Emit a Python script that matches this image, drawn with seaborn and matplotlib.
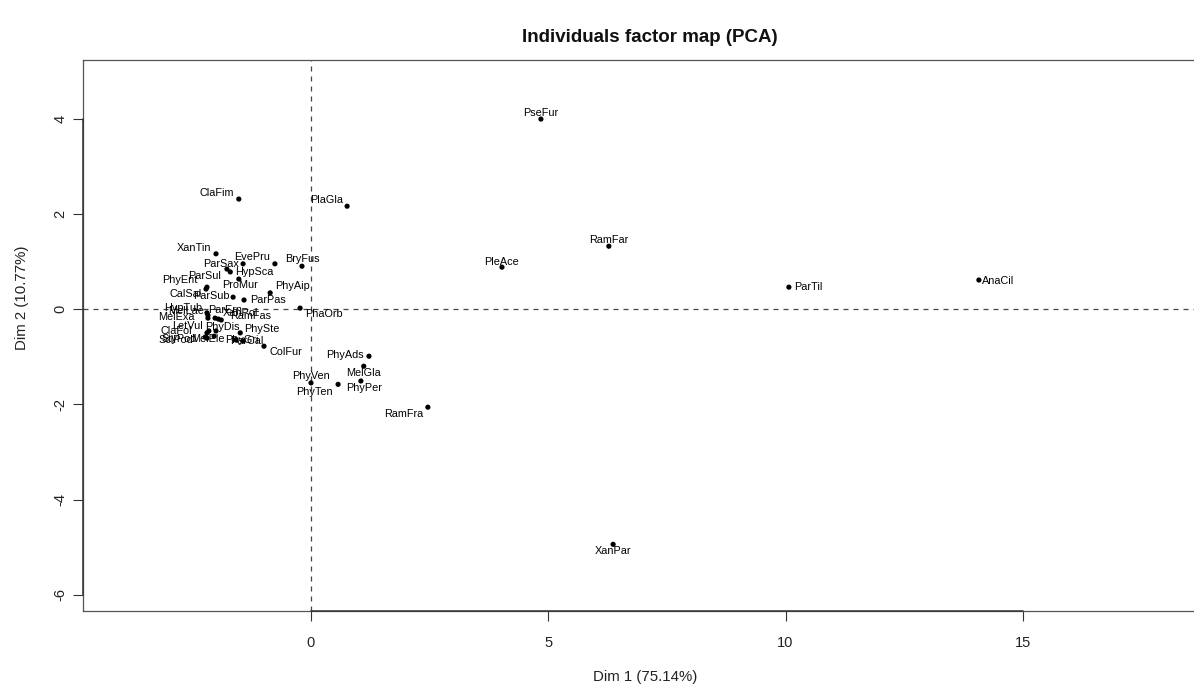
import matplotlib
matplotlib.use("Agg")
import matplotlib.pyplot as plt
import seaborn as sns
import pandas as pd

# Species coordinates on the first two principal components
species = [
    "PseFur", "ClaFim", "PlaGla", "RamFar", "PleAce", "ParTil", "AnaCil", "XanPar",
    "RamFra", "PhyAds", "MelGla", "PhyPer", "PhyTen", "PhyVen", "ColFur", "PhaOrb",
    "BryFus", "PhyAip", "ParPas", "EvePru", "ParSax", "XanTin", "HypSca", "ParSul",
    "PhyEnt", "ProMur", "CalSal", "ParSub", "HypTub", "MelLae", "MelExa", "ParErn",
    "XanPol", "RamFas", "LetVul", "ClaFol", "PhyDis", "PhySte", "StyPod", "SclPod",
    "MelEle", "PhyGri", "ParCal",
]
dim1 = [
    4.85, -1.51, 0.77, 6.28, 4.03, 10.07, 14.07, 6.37,
    2.47, 1.23, 1.12, 1.06, 0.58, 0.01, -0.98, -0.22,
    -0.18, -0.85, -1.40, -0.75, -1.42, -1.99, -1.69, -1.76,
    -2.18, -1.51, -2.20, -1.63, -2.18, -2.16, -2.16, -2.01,
    -1.94, -1.88, -2.14, -2.18, -1.99, -1.48, -2.22, -2.18,
    -2.03, -1.57, -1.42,
]
dim2 = [
    3.99, 2.31, 2.16, 1.32, 0.88, 0.46, 0.61, -4.94,
    -2.06, -0.99, -1.20, -1.51, -1.58, -1.55, -0.78, 0.02,
    0.90, 0.34, 0.19, 0.95, 0.95, 1.16, 0.78, 0.84,
    0.46, 0.63, 0.42, 0.25, -0.08, -0.13, -0.19, -0.19,
    -0.21, -0.23, -0.46, -0.50, -0.46, -0.50, -0.59, -0.61,
    -0.57, -0.65, -0.67,
]
x_ticks = [0, 5, 10, 15]
y_ticks = [-6, -4, -2, 0, 2, 4]
title = "Individuals factor map (PCA)"
x_label = "Dim 1 (75.14%)"
y_label = "Dim 2 (10.77%)"

# Label placement (pixel offsets from each point), chosen to limit overlaps
label_offsets = {
    "PseFur": (0, 6), "ClaFim": (-22, 6), "PlaGla": (-20, 6), "RamFar": (0, 6),
    "PleAce": (0, 5), "ParTil": (19, 0), "AnaCil": (19, -1), "XanPar": (0, -7),
    "RamFra": (-24, -7), "PhyAds": (-24, 1), "MelGla": (0, -7), "PhyPer": (3, -7),
    "PhyTen": (-24, -8), "PhyVen": (0, 7), "ColFur": (22, -6), "PhaOrb": (24, -6),
    "BryFus": (0, 7), "PhyAip": (22, 7), "ParPas": (24, 0), "EvePru": (-23, 7),
    "ParSax": (-22, 0), "XanTin": (-22, 6), "HypSca": (24, 0), "ParSul": (-22, -7),
    "PhyEnt": (-27, 7), "ProMur": (1, -6), "CalSal": (-20, -5), "ParSub": (-22, 1),
    "HypTub": (-24, 5), "MelLae": (-22, 4), "MelExa": (-32, 1), "ParErn": (10, 8),
    "XanPol": (22, 6), "RamFas": (29, 4), "LetVul": (-21, 5), "ClaFol": (-31, 2),
    "PhyDis": (6, 4), "PhySte": (22, 4), "StyPod": (-26, -2), "SclPod": (-31, -2),
    "MelEle": (-6, -3), "PhyGri": (6, 0), "ParCal": (4, 0),
}

df = pd.DataFrame({"name": species, "dim1": dim1, "dim2": dim2})

sns.set_theme(style="white")
plt.rcParams["font.family"] = ["Liberation Sans", "DejaVu Sans"]

W, H = 1194, 688
fig = plt.figure(figsize=(W / 100, H / 100), dpi=100)
left, right, top, bottom = 83, 1205, 60, 611
ax = fig.add_axes([left / W, 1 - bottom / H, (right - left) / W, (bottom - top) / H])

sns.scatterplot(data=df, x="dim1", y="dim2", ax=ax, color="black", s=14,
                edgecolor="none", legend=False, zorder=3)

for name, x, y in zip(df["name"], df["dim1"], df["dim2"]):
    dx, dy = label_offsets[name]
    ax.annotate(name, (x, y), xytext=(dx, dy), textcoords="offset pixels",
                ha="center", va="center", fontsize=7.8, color="black", zorder=4)

ax.axhline(0, color="#444444", lw=0.9, ls=(0, (4, 4)), zorder=1)
ax.axvline(0, color="#444444", lw=0.9, ls=(0, (4, 4)), zorder=1)

ax.set_xlim(-4.79, 18.83)
ax.set_ylim(-6.34, 5.23)
ax.set_xticks(x_ticks)
ax.set_yticks(y_ticks)
ax.set_xticklabels([str(t) for t in x_ticks], fontsize=10.5)
ax.set_yticklabels([str(t) for t in y_ticks], fontsize=10.5, rotation=90, va="center")
ax.tick_params(axis="x", direction="out", length=7, width=0.8, color="#333333",
               bottom=True, pad=11, labelcolor="#222222")
ax.tick_params(axis="y", direction="out", length=7, width=0.8, color="#333333",
               left=True, pad=4, labelcolor="#222222")
ax.set_xlabel("")
ax.set_ylabel("")
for sp in ax.spines.values():
    sp.set_color("#555555")
    sp.set_linewidth(0.9)
    sp.set_visible(True)

# Axis lines spanning the tick range
ax.plot([x_ticks[0], x_ticks[-1]], [ax.get_ylim()[0]] * 2, color="#333333", lw=1.1,
        clip_on=False, zorder=5)
ax.plot([ax.get_xlim()[0]] * 2, [y_ticks[0], y_ticks[-1]], color="#333333", lw=1.1,
        clip_on=False, zorder=5)

fig.text(650 / W, 1 - 38 / H, title, ha="center", va="center", fontsize=13.5,
         fontweight="bold", color="#111111")
fig.text(645 / W, 1 - 677 / H, x_label, ha="center", va="center", fontsize=10.8,
         color="#222222")
fig.text(22 / W, 1 - 298 / H, y_label, ha="center", va="center", fontsize=10.8,
         rotation=90, color="#222222")

fig.savefig("out.png", dpi=100, facecolor="white")
